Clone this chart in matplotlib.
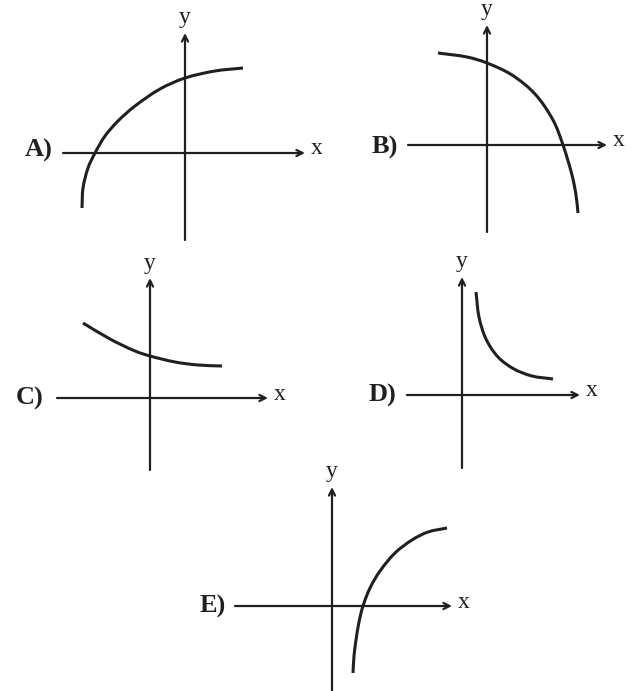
import numpy as np
import matplotlib.pyplot as plt
from matplotlib.path import Path
from matplotlib.patches import PathPatch

# curves, local units (origin at the axes crossing, y up)
a_x = [-103, -102, -97, -90, -80, -67, -50, -25, 0, 30, 58]
a_y = [-55, -35, -15, 0, 17, 32, 47, 64, 75, 82, 85]

b_x = [-49, -20, 0, 25, 48, 66, 76, 85, 89, 91]
b_y = [92, 88, 82, 70, 51, 25, 0, -30, -50, -68]

c_x = [-67, -40, -15, 0, 25, 48, 72]
c_y = [75, 59, 47, 42, 36, 33, 32]

d_x = [14, 17, 24, 36, 52, 70, 91]
d_y = [103, 78, 56, 38, 26, 19, 16]

e_x = [21, 22, 24, 27, 31, 38, 48, 63, 80, 96, 115]
e_y = [-67, -50, -34, -16, 0, 18, 35, 53, 66, 74, 78]

labels = ['A)', 'B)', 'C)', 'D)', 'E)']

W, H = 637, 691
ink = '#231f20'


def smooth(xs, ys):
    # cubic bezier through the points, tangents scaled by chord length
    p = np.column_stack([xs, ys]).astype(float)
    n = len(p)
    d = np.linalg.norm(np.diff(p, axis=0), axis=1)
    m = np.zeros_like(p)
    m[0] = (p[1] - p[0]) / d[0]
    m[-1] = (p[-1] - p[-2]) / d[-1]
    for i in range(1, n - 1):
        m[i] = (p[i + 1] - p[i - 1]) / (d[i - 1] + d[i])
    verts = [p[0]]
    codes = [Path.MOVETO]
    for i in range(n - 1):
        verts += [p[i] + m[i] * d[i] / 3, p[i + 1] - m[i + 1] * d[i] / 3, p[i + 1]]
        codes += [Path.CURVE4] * 3
    return Path(verts, codes)


# origin (px from top-left), x-axis extent, y-axis extent, label x, label y offset
panels = [
    ((185, 153), (-122, 120), (-87, 120), -146, 3, a_x, a_y),
    ((487, 145), (-79, 120), (-87, 120), -102, -2, b_x, b_y),
    ((150, 398), (-93, 118), (-72, 120), -120, 0, c_x, c_y),
    ((462, 395), (-55, 118), (-73, 118), -80, 0, d_x, d_y),
    ((332, 606), (-97, 120), (-85, 119), -119, 0, e_x, e_y),
]

fig = plt.figure(figsize=(W / 100, H / 100), dpi=100)

X0, X1, Y0, Y1 = -180, 160, -100, 160
for lab, (org, xr, yr, lx, ly, cx, cy) in zip(labels, panels):
    ox, oy = org
    ax = fig.add_axes([(ox + X0) / W, 1 - (oy - Y0) / H, (X1 - X0) / W, (Y1 - Y0) / H])
    ax.set_xlim(X0, X1)
    ax.set_ylim(Y0, Y1)
    ax.axis('off')
    ax.patch.set_alpha(0)

    ax.annotate('', xy=(xr[1], 0), xytext=(xr[0], 0),
                arrowprops=dict(arrowstyle='->', lw=1.6, color=ink,
                                shrinkA=0, shrinkB=0, mutation_scale=11))
    ax.annotate('', xy=(0, yr[1]), xytext=(0, yr[0]),
                arrowprops=dict(arrowstyle='->', lw=1.6, color=ink,
                                shrinkA=0, shrinkB=0, mutation_scale=11))
    ax.add_patch(PathPatch(smooth(cx, cy), fill=False, lw=2.2, ec=ink,
                           capstyle='butt'))

    ax.text(lx, ly, lab, ha='center', va='center', fontsize=19,
            fontweight='bold', family='Liberation Serif', color=ink)
    ax.text(xr[1] + 12, 4, 'x', ha='center', va='center', fontsize=17,
            family='Liberation Serif', color=ink)
    ax.text(0, yr[1] + 15, 'y', ha='center', va='center', fontsize=17,
            family='Liberation Serif', color=ink)

fig.savefig('out.png', dpi=100, facecolor='white')
